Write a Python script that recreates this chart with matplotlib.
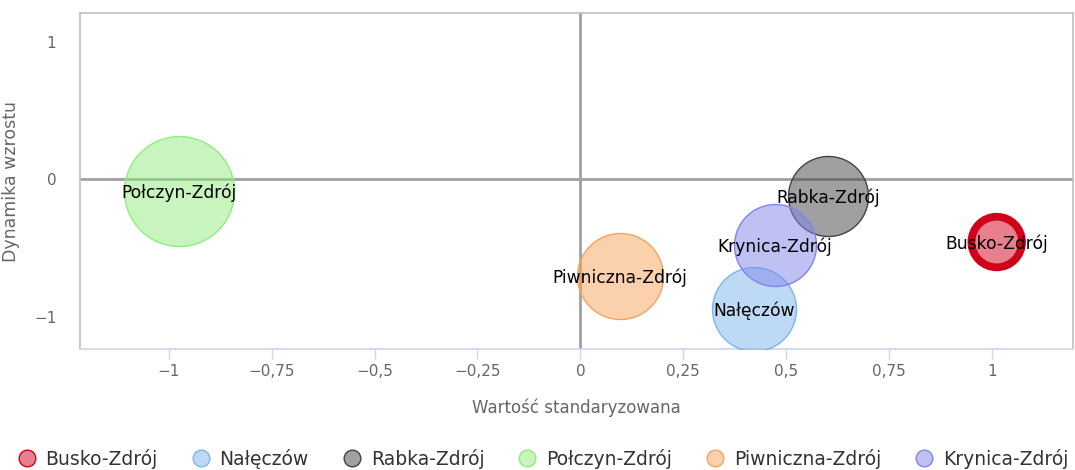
import matplotlib
matplotlib.use("Agg")
import matplotlib.pyplot as plt
from matplotlib.ticker import FixedLocator, FuncFormatter
from matplotlib.lines import Line2D

plt.rcParams['font.family'] = ['DejaVu Sans']

# ====================== dane ======================
names = ['Busko-Zdrój', 'Nałęczów', 'Rabka-Zdrój', 'Połczyn-Zdrój', 'Piwniczna-Zdrój', 'Krynica-Zdrój']
x_vals = [1.012, 0.422, 0.602, -0.976, 0.097, 0.473]
y_vals = [-0.455, -0.945, -0.124, -0.087, -0.705, -0.48]
z_vals = [0.64, 1.76, 1.60, 3.02, 1.85, 1.68]
colors = ['#d0021b', '#7cb5ec', '#434348', '#90ed7d', '#f7a35c', '#8085e9']
x_ticks = [-1, -0.75, -0.5, -0.25, 0, 0.25, 0.5, 0.75, 1]
y_ticks = [-1, 0, 1]


def fmt(v, pos=None):
    s = ('%g' % v).replace('.', ',')
    return s.replace('-', '\u2212')


fig = plt.figure(figsize=(10.75, 4.7), dpi=100)
ax = fig.add_axes([0.0744, 0.2574, 0.9236, 0.7149])
ax.set_xlim(-1.216, 1.197)
ax.set_ylim(-1.233, 1.21)

# linie zerowe
ax.axhline(0, color='#a0a0a0', lw=2, zorder=1)
ax.axvline(0, color='#a0a0a0', lw=2, zorder=1)

for i, n in enumerate(names):
    if i == 0:
        # zaznaczony punkt
        ax.scatter(x_vals[i], y_vals[i], s=z_vals[i] * 2073.6, color=colors[i], alpha=0.5,
                   linewidths=0, zorder=3)
        ax.scatter(x_vals[i], y_vals[i], s=z_vals[i] * 2073.6, facecolor='none',
                   edgecolor=colors[i], linewidths=5.6, zorder=3)
    else:
        ax.scatter(x_vals[i], y_vals[i], s=z_vals[i] * 2073.6, facecolor=colors[i] + '80',
                   edgecolor=colors[i], linewidths=1, zorder=3)
    ax.text(x_vals[i], y_vals[i] - 0.01, n, ha='center', va='center', fontsize=12.3,
            color='black', zorder=5)

for side in ['left', 'top', 'right']:
    ax.spines[side].set_color('#c0c0c0')
    ax.spines[side].set_linewidth(1.2)
ax.spines['bottom'].set_color('#ccd6eb')
ax.spines['bottom'].set_linewidth(1.2)

ax.xaxis.set_major_locator(FixedLocator(x_ticks))
ax.yaxis.set_major_locator(FixedLocator(y_ticks))
ax.xaxis.set_major_formatter(FuncFormatter(fmt))
ax.yaxis.set_major_formatter(FuncFormatter(fmt))
ax.tick_params(axis='x', length=7.5, width=1, color='#ccd6eb', labelsize=11, labelcolor='#666666', pad=3)
ax.tick_params(axis='y', length=0, labelsize=11, labelcolor='#666666', pad=17)

ax.set_xlabel('Wartość standaryzowana', fontsize=12, color='#666666', labelpad=14)
ax.set_ylabel('Dynamika wzrostu', fontsize=12.5, color='#666666')
ax.yaxis.set_label_coords(-0.06, 0.5)

handles = [Line2D([0], [0], marker='o', ls='none', markersize=12,
                  markerfacecolor=c + '80', markeredgecolor=c, markeredgewidth=1) for c in colors]
fig.legend(handles, names, loc='lower center', ncol=6, frameon=False, fontsize=13.5,
           labelcolor='#333333', bbox_to_anchor=(0.505, -0.033), columnspacing=1.8,
           handletextpad=0.5, handlelength=1.0)

fig.savefig('out.png', dpi=100)
